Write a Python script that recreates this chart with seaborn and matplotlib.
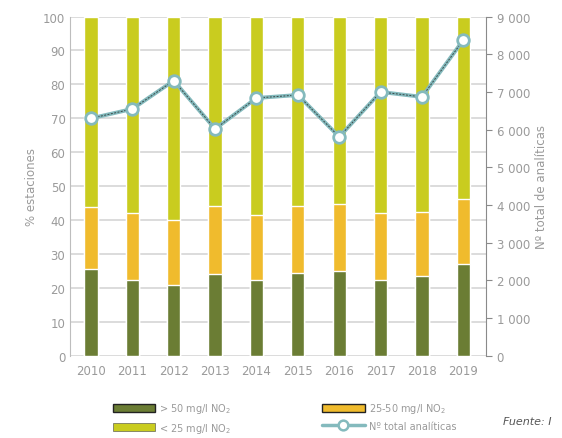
import numpy as np
import pandas as pd
import matplotlib
matplotlib.use("Agg")
import matplotlib.pyplot as plt
import seaborn as sns
from matplotlib.patches import Patch
from matplotlib.lines import Line2D

years = ['2010', '2011', '2012', '2013', '2014', '2015', '2016', '2017', '2018', '2019']
pct_gt50 = [25.5, 22.5, 21.0, 24.0, 22.5, 24.5, 25.0, 22.5, 23.5, 27.0]
pct_25_50 = [18.5, 19.7, 19.0, 20.2, 19.1, 19.7, 19.8, 19.7, 19.0, 19.3]
pct_lt25 = [56.0, 57.8, 60.0, 55.8, 58.4, 55.8, 55.2, 57.8, 57.5, 53.7]
total_analiticas = [6300, 6550, 7300, 6020, 6840, 6920, 5810, 7000, 6870, 8380]

c_dark = '#6b7d34'
c_orange = '#f0bb2d'
c_lime = '#c9cc1f'
c_teal = '#84babd'
grey = '#9a9a9a'

df = pd.DataFrame({'year': years, 'gt50': pct_gt50, 'mid': pct_25_50, 'lt25': pct_lt25})
df['cum_mid'] = df['gt50'] + df['mid']
df['cum_all'] = df['cum_mid'] + df['lt25']

sns.set_style('white')
plt.rcParams['font.family'] = ['DejaVu Sans']

fig = plt.figure(figsize=(5.62, 4.39), dpi=100)
ax = fig.add_axes([0.125, 0.187, 0.74, 0.773])

sns.barplot(data=df, x='year', y='cum_all', color=c_lime, width=0.32, saturation=1, ax=ax, zorder=2)
sns.barplot(data=df, x='year', y='cum_mid', color=c_orange, width=0.32, saturation=1, ax=ax, zorder=2)
sns.barplot(data=df, x='year', y='gt50', color=c_dark, width=0.32, saturation=1, ax=ax, zorder=2)

ax.set_ylim(0, 100)
ax.set_xlim(-0.5, 9.55)
ax.set_yticks(np.arange(0, 101, 10))
ax.yaxis.grid(True, color='#d6d6d6', lw=1.2, zorder=0)
ax.set_axisbelow(True)
ax.set_xlabel('')
ax.set_ylabel('% estaciones', color=grey, fontsize=8.5)
ax.tick_params(axis='both', colors=grey, labelsize=8.5, length=0)
ax.tick_params(axis='x', pad=6)
for s in ['top', 'right', 'bottom']:
    ax.spines[s].set_visible(False)
ax.spines['left'].set_color('#bdbdbd')

# line on the secondary axis: teal line, thin dark dashes, white markers on top
ax2 = ax.twinx()
x_pos = np.arange(len(years))
sns.lineplot(x=x_pos, y=total_analiticas, ax=ax2, color=c_teal, lw=2.8, zorder=4)
ax2.plot(x_pos, total_analiticas, color='#3c4a4a', lw=0.7, ls=(0, (2, 1.5)), zorder=5)
sns.scatterplot(x=x_pos, y=total_analiticas, ax=ax2, s=70, color='white',
                edgecolor=c_teal, linewidth=2, zorder=6)
ax2.set_ylim(0, 9000)
ax2.set_yticks(np.arange(0, 9001, 1000))
ax2.set_yticklabels(['0'] + [f'{v // 1000} 000' for v in range(1000, 9001, 1000)])
ax2.set_ylabel('Nº total de analíticas', color=grey, fontsize=8.5)
ax2.tick_params(axis='y', colors=grey, labelsize=8.5, length=4, direction='out')
ax2.tick_params(axis='y', color='#8a8a8a')
for s in ['top', 'left', 'bottom']:
    ax2.spines[s].set_visible(False)
ax2.spines['right'].set_color('#8a8a8a')

handles = [
    Patch(facecolor=c_dark, edgecolor='#222222', lw=1),
    Patch(facecolor=c_lime, edgecolor='#444444', lw=0.4),
    Patch(facecolor=c_orange, edgecolor='#222222', lw=1),
    Line2D([0], [0], color=c_teal, lw=2.5, marker='o', markersize=7,
           markerfacecolor='white', markeredgecolor=c_teal, markeredgewidth=1.8),
]
labels = ['> 50 mg/l NO$_2$', '< 25 mg/l NO$_2$', '25-50 mg/l NO$_2$', 'Nº total analíticas']
fig.legend(handles, labels, ncol=2, loc='lower left', bbox_to_anchor=(0.185, -0.012),
           frameon=False, fontsize=7, labelcolor=grey, handlelength=4.4, handleheight=0.8,
           columnspacing=9.3, handletextpad=0.4, labelspacing=0.55)

fig.text(0.895, 0.032, 'Fuente: I', fontsize=8, style='italic', color='#555555')

fig.savefig('out.png', dpi=100)
